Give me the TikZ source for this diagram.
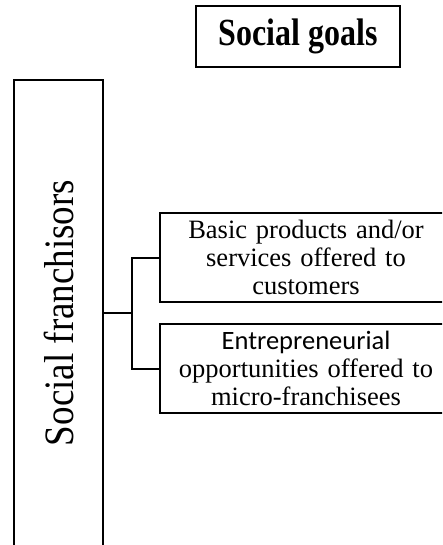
\documentclass[tikz,border=0pt]{standalone}
\usepackage{fontspec}
\setmainfont{Liberation Serif}
\newfontfamily\calibrifont{Carlito}
\usepackage{graphicx}
\usepackage{tikz}
\usetikzlibrary{positioning}

\begin{document}
\begin{tikzpicture}[
            x=1pt, y=1pt,
            line width=2pt,
            box/.style={draw, rectangle, inner sep=0pt, align=center}
        ]
        \useasboundingbox (0, 0) rectangle (442, -545);
        \clip (0, 0) rectangle (442, -545);

        \node [box, minimum width=204pt, minimum height=61pt, font=\fontsize{32}{36}\selectfont\bfseries] (goals) at (298, -36.5) {\scalebox{1}[1.2]{Social goals}};
        \node [box, rotate=90, minimum width=466pt, minimum height=89pt, font=\fontsize{37}{40}\selectfont] (franchisors) at (58.5, -313) {\scalebox{1}[1.13]{Social franchisors}};

        % Goal boxes
        \node [box, minimum width=292pt, minimum height=89pt, text width=280pt, font=\fontsize{26.5}{28}\selectfont] (basic) at (306, -257.5) {Basic products and/or\\ services offered to\\ customers};
        \node [box, minimum width=292pt, minimum height=89pt, text width=280pt, font=\fontsize{26.5}{28}\selectfont] (entrepreneurial) at (306, -368.5) {{\calibrifont Entrepreneurial}\\ opportunities offered to\\ micro-franchisees};

        % Fork
        \draw (franchisors.south) to ++(28, 0) coordinate (fork);
        \draw (basic.west) -| (fork) |- (entrepreneurial.west);
    \end{tikzpicture}
\end{document}
